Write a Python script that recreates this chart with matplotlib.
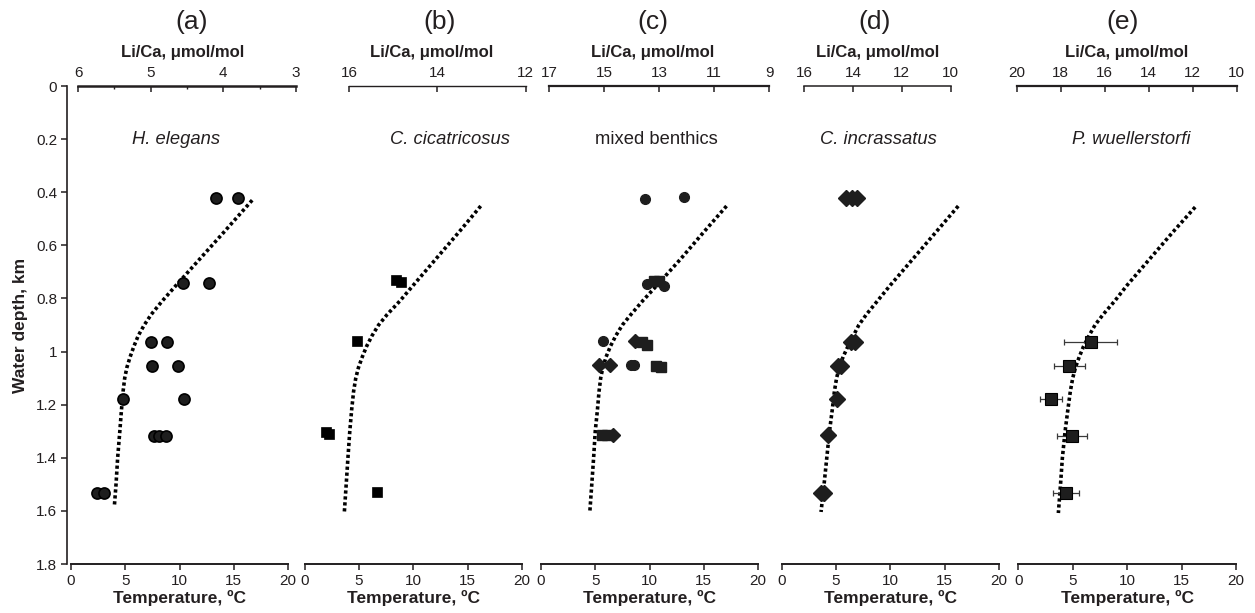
import matplotlib
matplotlib.use("Agg")
import matplotlib.pyplot as plt
from matplotlib.ticker import FormatStrFormatter, FuncFormatter

plt.rcParams['font.family'] = ['Liberation Sans', 'DejaVu Sans']
TXT = '#231f20'
MK = '#1e1e1e'

# ---------------- data ----------------
panel_letters = ['(a)', '(b)', '(c)', '(d)', '(e)']
species = ['H. elegans', 'C. cicatricosus', 'mixed benthics', 'C. incrassatus', 'P. wuellerstorfi']
species_italic = [True, True, False, True, True]

temp_ticks = [0, 5, 10, 15, 20]
depth_ticks = [0, 0.2, 0.4, 0.6, 0.8, 1.0, 1.2, 1.4, 1.6, 1.8]

# Li/Ca top-axis ranges (left value, right value) and ticks
lica_limits = [(6, 3), (16, 12), (17, 9), (16, 10), (20, 10)]
lica_ticks = [[6, 5, 4, 3], [16, 14, 12], [17, 15, 13, 11, 9], [16, 14, 12, 10],
              [20, 18, 16, 14, 12, 10]]
lica_minor = [[5.5, 4.5, 3.5], [], [], [], []]

# (a) H. elegans
a_temp = [13.4, 15.4, 10.3, 12.75, 7.34, 8.88, 7.5, 9.9, 4.8, 10.4, 7.65, 8.1, 8.8, 2.43, 3.04]
a_depth = [0.42, 0.42, 0.74, 0.74, 0.963, 0.963, 1.054, 1.054, 1.18, 1.18, 1.317, 1.317, 1.317, 1.531, 1.531]

# (b) C. cicatricosus
b_temp = [8.4, 8.84, 4.85, 1.96, 2.27, 6.63]
b_depth = [0.73, 0.737, 0.959, 1.304, 1.311, 1.527]

# (c) mixed benthics
c_circ_temp = [9.6, 13.15, 9.8, 11.3, 5.68, 8.3, 8.55]
c_circ_depth = [0.424, 0.419, 0.745, 0.755, 0.961, 1.05, 1.05]
c_sq_temp = [10.4, 10.9, 9.27, 9.73, 10.6, 11.1, 5.6, 6.05]
c_sq_depth = [0.735, 0.735, 0.965, 0.975, 1.054, 1.058, 1.316, 1.316]
c_dia_temp = [8.66, 5.37, 6.36, 6.67]
c_dia_depth = [0.96, 1.05, 1.05, 1.316]

# (d) C. incrassatus
d_temp = [5.9, 6.44, 6.96, 6.35, 6.77, 5.15, 5.49, 5.06, 4.23, 3.59, 3.9]
d_depth = [0.423, 0.423, 0.423, 0.963, 0.963, 1.053, 1.053, 1.179, 1.314, 1.531, 1.531]

# (e) P. wuellerstorfi
e_temp = [6.66, 4.69, 2.98, 4.91, 4.39]
e_err = [2.45, 1.4, 1.03, 1.4, 1.22]
e_depth = [0.963, 1.054, 1.18, 1.318, 1.533]

a_prof_depth = [0.43, 0.55, 0.65, 0.75, 0.81, 0.86, 0.9, 0.94, 0.98, 1.02, 1.06, 1.1, 1.15, 1.22, 1.3, 1.4, 1.5, 1.58]
a_prof_temp = [16.7, 14.1, 11.9, 9.7, 8.4, 7.4, 6.75, 6.2, 5.8, 5.45, 5.15, 4.95, 4.8, 4.65, 4.5, 4.3, 4.15, 4.0]
b_prof_depth = [0.452, 0.55, 0.65, 0.75, 0.81, 0.86, 0.9, 0.94, 0.98, 1.02, 1.06, 1.1, 1.15, 1.22, 1.3, 1.4, 1.5, 1.604]
b_prof_temp = [16.2, 14.2, 12.1, 10.0, 8.75, 7.6, 6.8, 6.2, 5.7, 5.3, 4.95, 4.7, 4.5, 4.32, 4.15, 3.98, 3.82, 3.65]
c_prof_depth = [0.452, 0.55, 0.65, 0.75, 0.81, 0.86, 0.9, 0.94, 0.98, 1.02, 1.06, 1.1, 1.15, 1.22, 1.3, 1.4, 1.5, 1.604]
c_prof_temp = [17.1, 15.0, 12.9, 10.7, 9.35, 8.3, 7.5, 6.9, 6.4, 6.0, 5.7, 5.5, 5.35, 5.2, 5.0, 4.85, 4.68, 4.5]
d_prof_depth = [0.452, 0.55, 0.65, 0.75, 0.81, 0.86, 0.9, 0.94, 0.98, 1.02, 1.06, 1.1, 1.15, 1.22, 1.3, 1.4, 1.5, 1.604]
d_prof_temp = [16.25, 14.2, 12.1, 10.0, 8.8, 7.8, 7.1, 6.6, 6.1, 5.65, 5.3, 5.05, 4.85, 4.65, 4.4, 4.15, 3.9, 3.62]
e_prof_depth = [0.456, 0.55, 0.65, 0.75, 0.81, 0.86, 0.9, 0.94, 0.98, 1.02, 1.06, 1.1, 1.15, 1.22, 1.3, 1.4, 1.5, 1.608]
e_prof_temp = [16.25, 14.2, 12.1, 10.0, 8.85, 7.8, 7.05, 6.5, 6.0, 5.6, 5.25, 5.0, 4.78, 4.55, 4.3, 4.05, 3.88, 3.68]

profiles = [(a_prof_temp, a_prof_depth), (b_prof_temp, b_prof_depth), (c_prof_temp, c_prof_depth),
            (d_prof_temp, d_prof_depth), (e_prof_temp, e_prof_depth)]

# ---------------- layout ----------------
W, H = 1255, 613
fig = plt.figure(figsize=(W / 100, H / 100), dpi=100)


def fx(px):
    return px / W


def fy(py):
    return 1 - py / H


y_top_px, y_bot_px = 86, 564
bottom_spans = [(71, 288), (304.7, 522), (541, 758), (781.7, 999), (1018.3, 1236)]
top_spans = [(78, 296), (349, 525.7), (549, 769), (804, 950.7), (1016.7, 1236.7)]
top_lw = [1.8, 1.0, 1.6, 1.1, 1.6]
letter_x = [192, 440, 653, 875, 1123]
lica_label_x = [183, 432, 653, 878, 1127]
species_x = [176, 450, 656, 878, 1131]

axes = []
for i in range(5):
    x0, x1 = bottom_spans[i]
    ax = fig.add_axes([fx(x0), fy(y_bot_px), fx(x1 - x0), (y_bot_px - y_top_px) / H])
    ax.set_xlim(0, 20)
    ax.set_ylim(1.8, 0)
    ax.patch.set_visible(False)
    for s in ['top', 'right']:
        ax.spines[s].set_visible(False)
    ax.spines['bottom'].set_color(TXT)
    ax.spines['bottom'].set_linewidth(1.4)
    ax.set_xticks(temp_ticks)
    ax.tick_params(axis='x', direction='out', length=4, width=1.1, colors=TXT,
                   labelsize=11, pad=3)
    if i == 0:
        ax.spines['left'].set_position(('outward', 3))
        ax.spines['left'].set_color(TXT)
        ax.spines['left'].set_linewidth(1.2)
        ax.set_yticks(depth_ticks)
        ax.yaxis.set_major_formatter(FuncFormatter(lambda v, p: '%g' % round(v, 1)))
        ax.tick_params(axis='y', direction='out', length=4, width=1.1, colors=TXT,
                       labelsize=11, pad=3)
    else:
        ax.spines['left'].set_visible(False)
        ax.set_yticks([])
    ax.set_xlabel('Temperature, ºC', fontsize=12.5, fontweight='bold', color=TXT, labelpad=2)
    # dotted temperature profile
    pt, pdp = profiles[i]
    ax.plot(pt, pdp, color='black', lw=2.6, linestyle=(0, (0.9, 0.75)),
            dash_capstyle='butt', solid_joinstyle='round', zorder=2)
    axes.append(ax)

    # top Li/Ca axis
    tx0, tx1 = top_spans[i]
    tax = fig.add_axes([fx(tx0), fy(y_top_px), fx(tx1 - tx0), 0.0001])
    tax.patch.set_visible(False)
    tax.set_xlim(*lica_limits[i])
    for s in ['bottom', 'left', 'right']:
        tax.spines[s].set_visible(False)
    tax.spines['top'].set_color(TXT)
    tax.spines['top'].set_linewidth(top_lw[i])
    tax.set_yticks([])
    tax.xaxis.tick_top()
    tax.set_xticks(lica_ticks[i])
    tax.set_xticks(lica_minor[i], minor=True)
    tax.xaxis.set_major_formatter(FormatStrFormatter('%d'))
    tax.tick_params(axis='x', which='major', direction='in', length=4, width=1.1,
                    colors=TXT, labelsize=11, pad=4)
    tax.tick_params(axis='x', which='minor', direction='in', length=2.5, width=1.0,
                    colors=TXT)

    fig.text(fx(letter_x[i]), fy(22), panel_letters[i], fontsize=19, color=TXT,
             ha='center', va='center')
    fig.text(fx(lica_label_x[i]), fy(52), 'Li/Ca, μmol/mol', fontsize=12,
             fontweight='bold', color=TXT, ha='center', va='center')
    fig.text(fx(species_x[i]), fy(139), species[i], fontsize=13.2, color=TXT,
             style='italic' if species_italic[i] else 'normal', ha='center', va='center')

axes[0].set_ylabel('Water depth, km', fontsize=12.5, fontweight='bold', color=TXT, labelpad=6)

# markers
axa, axb, axc, axd, axe = axes
axa.plot(a_temp, a_depth, 'o', ms=8, mfc=MK, mec='black', mew=1.2, zorder=3)
axb.plot(b_temp, b_depth, 's', ms=7.5, mfc='black', mec='black', mew=0.5, zorder=3)
axc.plot(c_circ_temp, c_circ_depth, 'o', ms=7, mfc=MK, mec=MK, zorder=3)
axc.plot(c_sq_temp, c_sq_depth, 's', ms=7, mfc=MK, mec=MK, zorder=3)
axc.plot(c_dia_temp, c_dia_depth, 'D', ms=7.5, mfc=MK, mec=MK, zorder=3)
axd.plot(d_temp, d_depth, 'D', ms=8.5, mfc=MK, mec=MK, zorder=3)
axe.errorbar(e_temp, e_depth, xerr=e_err, fmt='none', ecolor='#3a3a3a', elinewidth=0.9,
             capsize=2.5, capthick=0.9, zorder=2)
axe.plot(e_temp, e_depth, 's', ms=8, mfc=MK, mec='black', mew=0.8, zorder=3)

fig.savefig('out.png', dpi=100)
